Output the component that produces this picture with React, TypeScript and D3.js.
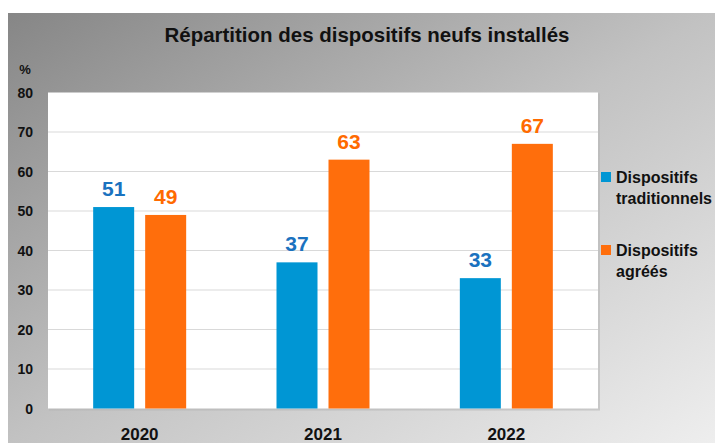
import React from "react";
import * as d3 from "d3";

const categories = ["2020", "2021", "2022"];
const seriesNames = ["Dispositifs traditionnels", "Dispositifs agréés"];
const traditionnels = [51, 37, 33];
const agrees = [49, 63, 67];
const yTicks = [0, 10, 20, 30, 40, 50, 60, 70, 80];

const W = 715;
const H = 443;
const plot = { left: 48, right: 598, top: 92.5, bottom: 408.5 };
const barColors = ["#0096D4", "#FF6E0C"];
const labelColors = ["#1A72BF", "#FF6A00"];
const FONT = "'Liberation Sans', Arial, sans-serif";

export default function App() {
  const x = d3.scaleBand<string>().domain(categories).range([plot.left, plot.right]).paddingInner(0).paddingOuter(0);
  const y = d3.scaleLinear().domain([0, 80]).range([plot.bottom, plot.top]);
  const barW = 41;
  const gap = 11;
  const series = [traditionnels, agrees];

  return (
    <svg width={W} height={H} style={{ position: "absolute", left: 0, top: 0 }} fontFamily={FONT}>
      <defs>
        <linearGradient id="bg" x1="0" y1="0" x2="1" y2="1">
          <stop offset="0" stopColor="#868686" />
          <stop offset="0.5" stopColor="#c2c2c2" />
          <stop offset="1" stopColor="#eeeeee" />
        </linearGradient>
      </defs>
      <rect x={0} y={0} width={W} height={H} fill="#ffffff" />
      <rect x={8} y={13} width={W - 8} height={H - 13} fill="url(#bg)" />
      <text x={367} y={42} textAnchor="middle" fontSize={21} fontWeight="bold" fill="#111" textLength={405} lengthAdjust="spacingAndGlyphs">
        Répartition des dispositifs neufs installés
      </text>
      <rect x={plot.left + 1} y={plot.top + 1} width={plot.right - plot.left + 1} height={plot.bottom - plot.top + 1} fill="#b5b5b5" opacity={0.6} />
      <rect x={plot.left} y={plot.top} width={plot.right - plot.left} height={plot.bottom - plot.top} fill="#ffffff" />
      {yTicks.filter((t) => t > 0 && t < 80).map((t) => (
        <line key={t} x1={plot.left} x2={plot.right} y1={y(t)} y2={y(t)} stroke="#d9d9d9" strokeWidth={1} />
      ))}
      {yTicks.map((t) => (
        <text key={t} x={33} y={y(t) + 5} textAnchor="end" fontSize={14} fontWeight="bold" fill="#111">
          {t}
        </text>
      ))}
      <text x={25} y={74} textAnchor="middle" fontSize={13} fontWeight="bold" fill="#111">%</text>
      {categories.map((c, i) => {
        const cx = (x(c) as number) + x.bandwidth() / 2;
        return (
          <g key={c}>
            {series.map((s, si) => {
              const bx = si === 0 ? cx - gap / 2 - barW : cx + gap / 2;
              return (
                <g key={si}>
                  <rect x={bx} y={y(s[i])} width={barW} height={y(0) - y(s[i])} fill={barColors[si]} />
                  <text x={bx + barW / 2} y={y(s[i]) - 11} textAnchor="middle" fontSize={21} fontWeight="bold" fill={labelColors[si]}>
                    {s[i]}
                  </text>
                </g>
              );
            })}
            <text x={cx} y={440} textAnchor="middle" fontSize={17} fontWeight="bold" fill="#111">
              {c}
            </text>
          </g>
        );
      })}
      {seriesNames.map((name, si) => {
        const words = name.split(" ");
        const top = si === 0 ? 172 : 245;
        return (
          <g key={name}>
            <rect x={601} y={top} width={10} height={10} fill={barColors[si]} />
            {words.map((w, wi) => (
              <text key={wi} x={616} y={top + 11 + wi * 21} fontSize={16} fontWeight="bold" fill="#111">
                {w}
              </text>
            ))}
          </g>
        );
      })}
    </svg>
  );
}
